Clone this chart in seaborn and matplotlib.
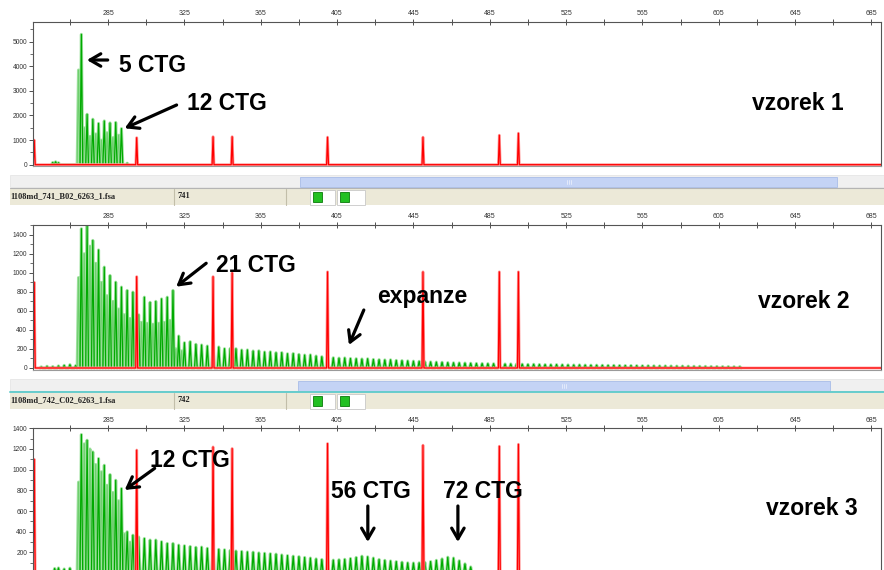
import matplotlib
matplotlib.use("Agg")
import matplotlib.pyplot as plt
import matplotlib.ticker as ticker
from matplotlib.patches import Rectangle
import seaborn as sns
import pandas as pd

sns.set_style("white")
plt.rcParams["font.family"] = ["Liberation Sans", "DejaVu Sans"]

# size standard peaks (red), bp and heights per sample
std_bp = [246.3, 300, 340, 350, 400, 450, 490, 500]
std_h1 = [1000, 1100, 1140, 1140, 1120, 1120, 1200, 1280]
std_h2 = [900, 960, 960, 1000, 1010, 1010, 1010, 1010]
std_h3 = [1100, 1190, 1220, 1205, 1253, 1237, 1227, 1246]

# CTG ladder (green): first repeat count and its size, repeat unit 3 bp
first_ctg = 5
first_ctg_bp = 271
repeat_bp = 3

# main peak heights, one per CTG repeat starting at 5 CTG
main1 = [5300, 2050, 1850, 1680, 1780, 1700, 1720, 1470]
minor1 = [3850, 1500, 1150, 1250, 1000, 1300, 1100, 1200]
noise1_bp = [256, 257.5, 259, 295]
noise1_h = [90, 120, 80, 60]

main2 = [1463, 1491, 1340, 1240, 1060, 972, 902, 850, 815, 797, 560, 744, 690, 700, 726, 744, 815,
         336, 266, 277, 249, 242, 231, 215, 221, 203, 205, 203, 189, 190, 179, 181, 168, 170, 161,
         162, 150, 152, 143, 136, 138, 126, 119, 112, 108, 104, 106, 100, 98, 95, 97, 90, 88, 85,
         86, 80, 78, 75, 72, 70, 66, 64, 62, 60, 57, 55, 54, 52, 50, 48, 47,
         46, 45, 44, 42, 43, 41, 40, 38, 39, 37, 36, 35, 36, 34, 33, 32, 33, 31, 30, 30, 29, 28,
         28, 27, 26, 26, 25, 24, 24, 23, 22, 22, 21, 20, 20, 19, 18, 18, 17, 16, 16, 15, 15, 14, 14]
minor2 = [950, 1200, 1280, 1100, 900, 760, 700, 620, 560, 520, 500, 480, 470, 460, 470, 480, 500, 200, 180]
noise2_bp = [250, 253, 256, 259, 262, 265, 268]
noise2_h = [12, 18, 15, 22, 28, 35, 25]

main3 = [1340, 1285, 1172, 1108, 1043, 953, 898, 818, 400, 367, 350, 335, 320, 320, 304, 287, 287,
         271, 265, 258, 250, 252, 240, 238, 230, 226, 220, 214, 210, 205, 203, 196, 192, 188, 184,
         176, 170, 164, 160, 152, 146, 138, 132, 128, 126, 130, 134, 142, 152, 164, 158, 146, 132,
         124, 118, 112, 106, 100, 98, 100, 104, 112, 124, 138, 154, 146, 120, 90, 60]
minor3 = [880, 1250, 1200, 1050, 980, 850, 780, 700, 380, 300]
noise3_bp = [257, 259, 262, 265]
noise3_h = [45, 50, 40, 48]

size_ticks = [285, 325, 365, 405, 445, 485, 525, 565, 605, 645, 685]
x_range = (245.5, 690)


def peak_trace(bps, hts, half, ends=None):
    xs, ys = [], []
    if ends:
        xs.append(ends[0]); ys.append(0)
    for b, h in sorted(zip(bps, hts)):
        xs += [b - half, b, b + half]
        ys += [0, h, 0]
    if ends:
        xs.append(ends[1]); ys.append(0)
    return pd.DataFrame({"bp": xs, "rfu": ys})


def ladder_bp(n_peaks, shift=0.0):
    return [first_ctg_bp + repeat_bp * i + shift for i in range(n_peaks)]


def draw_panel(ax, main, minor, noise_bp, noise_h, std_h, ylim, ymaj, hide_zero=False):
    main_bp = ladder_bp(len(main)) + noise_bp
    main_h = main + noise_h
    minor_bp = ladder_bp(len(minor), -1.5)
    all_df = peak_trace(main_bp + minor_bp, main_h + minor, 0.7)
    main_df = peak_trace(main_bp, main_h, 0.7)
    minor_df = peak_trace(minor_bp, minor, 0.7)
    red_df = peak_trace(std_bp, std_h, 0.5, ends=x_range)

    kw = dict(x="bp", y="rfu", sort=False, estimator=None, ax=ax)
    sns.lineplot(data=all_df, color="#9fe29f", lw=2.2, **kw)
    sns.lineplot(data=minor_df, color="#6fcf6f", lw=0.8, **kw)
    sns.lineplot(data=main_df, color="#00aa00", lw=0.9, **kw)
    sns.lineplot(data=red_df, color="#ff9d9d", lw=2.0, **kw)
    sns.lineplot(data=red_df, color="#ff0000", lw=0.9, **kw)

    ax.set_xlim(*x_range)
    ax.set_ylim(*ylim)
    ax.set_xlabel("")
    ax.set_ylabel("")
    ax.xaxis.tick_top()
    ax.xaxis.set_major_locator(ticker.FixedLocator(size_ticks))
    ax.xaxis.set_minor_locator(ticker.MultipleLocator(40, offset=25))
    ax.yaxis.set_major_locator(ticker.MultipleLocator(ymaj))
    ax.yaxis.set_minor_locator(ticker.MultipleLocator(ymaj / 2))
    if hide_zero:
        ax.yaxis.set_major_formatter(
            ticker.FuncFormatter(lambda v, pos: "" if v < 1 else f"{v:.0f}"))
    ax.tick_params(axis="x", which="major", direction="inout", length=4, width=0.6,
                   labelsize=5, pad=1.2, colors="#333333", top=True, bottom=False)
    ax.tick_params(axis="x", which="minor", direction="inout", length=4, width=0.6,
                   top=True, bottom=False, colors="#333333")
    ax.tick_params(axis="y", which="major", direction="out", length=3, width=0.6,
                   labelsize=4.8, pad=1, colors="#333333", left=True)
    ax.tick_params(axis="y", which="minor", direction="out", length=2, width=0.5,
                   left=True, colors="#333333")
    for s in ax.spines.values():
        s.set_color("#555555")
        s.set_linewidth(0.8)
    ax.spines["bottom"].set_color("#9a9a9a")


fig = plt.figure(figsize=(8.84, 5.70), dpi=100)

# background layer in pixel units for the software strips
bg = fig.add_axes([0, 0, 1, 1], zorder=-5)
bg.set_xlim(0, 884)
bg.set_ylim(570, 0)
bg.axis("off")


def strip(y0, thumb, name, num, cyan):
    bg.add_patch(Rectangle((10, y0), 874, 12, fc="#f0f0f0", ec="#e2e2e2", lw=0.5))
    bg.add_patch(Rectangle((thumb[0], y0 + 2), thumb[1] - thumb[0], 10,
                           fc="#c4d3f5", ec="#a9bde8", lw=0.6))
    mid = (thumb[0] + thumb[1]) / 2
    for dx in (-2, 0, 2):
        bg.plot([mid + dx, mid + dx], [y0 + 5, y0 + 9], color="#e8eefc", lw=0.6)
    row = y0 + 13.5
    bg.plot([10, 884], [row - 0.5, row - 0.5], color="#66cccc" if cyan else "#b4b4b4",
            lw=1.4 if cyan else 0.8)
    bg.add_patch(Rectangle((10, row), 874, 16, fc="#ece9d8", ec="none"))
    for xv in (174, 286):
        bg.plot([xv, xv], [row, row + 16], color="#c2bea9", lw=0.8)
    bg.text(10, row + 8, name, fontsize=6, fontweight="bold", family="Liberation Serif",
            va="center", ha="left", color="#222222")
    bg.text(177, row + 8, num, fontsize=6, fontweight="bold", family="Liberation Serif",
            va="center", ha="left", color="#222222")
    for bx, bw in ((310, 25), (337, 28)):
        bg.add_patch(Rectangle((bx, row + 1), bw, 15, fc="white", ec="#c8c8c8", lw=0.6))
        bg.add_patch(Rectangle((bx + 3, row + 3), 9, 10, fc="#22c022", ec="#0a7a0a", lw=0.6))


strip(175, (300, 837), "1108md_741_B02_6263_1.fsa", "741", False)
strip(379, (298, 830), "1108md_742_C02_6263_1.fsa", "742", True)

ax1 = fig.add_axes([0.0370, 0.7093, 0.9596, 0.2526])
ax2 = fig.add_axes([0.0370, 0.3509, 0.9596, 0.2549])
ax3 = fig.add_axes([0.0370, -0.0082, 0.9596, 0.2568])

draw_panel(ax1, main1, minor1, noise1_bp, noise1_h, std_h1, (-41, 5813), 1000)
draw_panel(ax2, main2, minor2, noise2_bp, noise2_h, std_h2, (-21, 1505), 200)
draw_panel(ax3, main3, minor3, noise3_bp, noise3_h, std_h3, (-15, 1400), 200, hide_zero=True)

big = dict(fontsize=16.5, fontweight="bold", family="Liberation Sans", color="black",
           ha="left", va="baseline")
arrow = dict(arrowstyle="->, head_length=0.55, head_width=0.32", lw=2.3, color="black",
             shrinkA=0, shrinkB=0, mutation_scale=14)


def note(ax, text, x, y, tail=None, head=None):
    ax.text(x, y, text, **big)
    if tail is not None:
        ax.annotate("", xy=head, xytext=tail, arrowprops=arrow, annotation_clip=False)


note(ax1, "5 CTG", 290.6, 3780, (284.8, 4256), (273.9, 4256))
note(ax1, "12 CTG", 326.1, 2224, (320.9, 2427), (293.7, 1480))
note(ax1, "vzorek 1", 622.6, 2224)

note(ax2, "21 CTG", 341.7, 1012, (336.4, 1100), (320.7, 854))
note(ax2, "expanze", 425.8, 683, (419.0, 609), (411.2, 242))
note(ax2, "vzorek 2", 625.3, 630)

note(ax3, "12 CTG", 306.8, 1026, (309.4, 1013), (293.7, 804))
note(ax3, "56 CTG", 401.7, 727, (421.1, 649), (421.1, 301))
note(ax3, "72 CTG", 460.7, 727, (468.3, 649), (468.3, 301))
note(ax3, "vzorek 3", 629.5, 562)

fig.savefig("out.png", dpi=100)
